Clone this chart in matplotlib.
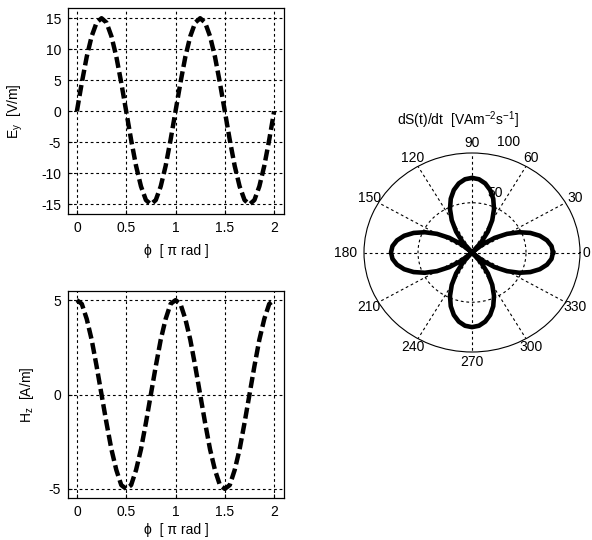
import matplotlib
matplotlib.use("Agg")
import matplotlib.pyplot as plt
import numpy as np

plt.rcParams['font.family'] = ['Liberation Sans', 'DejaVu Sans']
plt.rcParams['mathtext.default'] = 'regular'
plt.rcParams['axes.unicode_minus'] = False
plt.rcParams['font.size'] = 10

# ---- data ----
phi = [0.00, 0.05, 0.10, 0.15, 0.20, 0.25, 0.30, 0.35, 0.40, 0.45,
       0.50, 0.55, 0.60, 0.65, 0.70, 0.75, 0.80, 0.85, 0.90, 0.95,
       1.00, 1.05, 1.10, 1.15, 1.20, 1.25, 1.30, 1.35, 1.40, 1.45,
       1.50, 1.55, 1.60, 1.65, 1.70, 1.75, 1.80, 1.85, 1.90, 1.95, 2.00]
Ey = [0, 4.6, 8.8, 12.1, 14.3, 15, 14.3, 12.1, 8.8, 4.6,
      0, -4.6, -8.8, -12.1, -14.3, -15, -14.3, -12.1, -8.8, -4.6,
      0, 4.6, 8.8, 12.1, 14.3, 15, 14.3, 12.1, 8.8, 4.6,
      0, -4.6, -8.8, -12.1, -14.3, -15, -14.3, -12.1, -8.8, -4.6, 0]
Hz = [5, 4.8, 4.0, 2.9, 1.5, 0, -1.5, -2.9, -4.0, -4.8,
      -5, -4.8, -4.0, -2.9, -1.5, 0, 1.5, 2.9, 4.0, 4.8,
      5, 4.8, 4.0, 2.9, 1.5, 0, -1.5, -2.9, -4.0, -4.8,
      -5, -4.8, -4.0, -2.9, -1.5, 0, 1.5, 2.9, 4.0, 4.8, 5]

theta_deg = list(range(0, 361, 5))
dSdt = [75, 73.9, 70.5, 65.0, 57.5, 48.2, 37.5, 25.6, 13.0, 0, 13.0, 25.6, 37.5, 48.2, 57.5, 65.0, 70.5, 73.9,
        75, 73.9, 70.5, 65.0, 57.5, 48.2, 37.5, 25.6, 13.0, 0, 13.0, 25.6, 37.5, 48.2, 57.5, 65.0, 70.5, 73.9,
        75, 73.9, 70.5, 65.0, 57.5, 48.2, 37.5, 25.6, 13.0, 0, 13.0, 25.6, 37.5, 48.2, 57.5, 65.0, 70.5, 73.9,
        75, 73.9, 70.5, 65.0, 57.5, 48.2, 37.5, 25.6, 13.0, 0, 13.0, 25.6, 37.5, 48.2, 57.5, 65.0, 70.5, 73.9,
        75]

x_ticks = [0, 0.5, 1, 1.5, 2]
x_ticklabels = ['0', '0.5', '1', '1.5', '2']
ey_ticks = [-15, -10, -5, 0, 5, 10, 15]
hz_ticks = [-5, 0, 5]
angle_ticks = [0, 30, 60, 90, 120, 150, 180, 210, 240, 270, 300, 330]
radial_ticks = [50, 100]

W, H = 592, 540
fig = plt.figure(figsize=(W / 100, H / 100), dpi=100)

grid_kw = dict(color='black', linestyle=(0, (2.5, 2.5)), linewidth=0.8)
curve_kw = dict(color='black', linewidth=3.2, linestyle=(0, (2.5, 1.0)),
                solid_capstyle='butt', dash_capstyle='butt')


def style_cart(ax):
    ax.grid(True, **grid_kw)
    ax.tick_params(direction='in', length=3, pad=5, labelsize=10, color='black')
    for s in ax.spines.values():
        s.set_linewidth(0.9)
        s.set_color('black')
    ax.set_xlim(-0.09, 2.1)
    ax.set_xticks(x_ticks)
    ax.set_xticklabels(x_ticklabels)


# top-left: Ey
ax1 = fig.add_axes([68 / W, 1 - 214.3 / H, 216 / W, 206 / H])
ax1.plot(phi, Ey, **curve_kw)
style_cart(ax1)
ax1.set_ylim(-16.6, 16.6)
ax1.set_yticks(ey_ticks)
ax1.set_xlabel('ϕ  [ π rad ]', labelpad=6)
ax1.set_ylabel('E$_y$  [V/m]')
ax1.yaxis.set_label_coords((25 - 68) / 216, 0.5)

# bottom-left: Hz
ax2 = fig.add_axes([68 / W, 1 - 498.3 / H, 216 / W, 207.6 / H])
ax2.plot(phi, Hz, **curve_kw)
style_cart(ax2)
ax2.set_ylim(-5.5, 5.5)
ax2.set_yticks(hz_ticks)
ax2.set_xlabel('ϕ  [ π rad ]', labelpad=3)
ax2.set_ylabel('H$_z$  [A/m]')
ax2.yaxis.set_label_coords((36 - 68) / 216, 0.5)

# right: polar
ax3 = fig.add_axes([364 / W, 1 - 352 / H, 216 / W, 199 / H], projection='polar')
ax3.set_aspect('auto')
ax3.plot(np.deg2rad(theta_deg), dSdt, color='black', linewidth=3.3, zorder=5)
ax3.set_ylim(0, 100)
ax3.set_rgrids([radial_ticks[0]], labels=[''])
ax3.set_thetagrids(angle_ticks, labels=[''] * len(angle_ticks))
ax3.grid(True, **grid_kw)
ax3.spines['polar'].set_linewidth(0.8)
ax3.spines['polar'].set_color('black')
for a in angle_ticks:
    rr = {180: 117, 0: 106}.get(a, 110)
    ax3.text(np.deg2rad(a), rr, str(a), ha='center', va='center', fontsize=10)
ax3.text(np.deg2rad(75.3), 54.6, str(radial_ticks[0]), ha='left', va='bottom', fontsize=10, zorder=2)
ax3.text(np.deg2rad(77.5), 106.5, str(radial_ticks[1]), ha='left', va='bottom', fontsize=10)

fig.text(458 / W, 1 - 120 / H, 'dS(t)/dt  [VAm$^{-2}$s$^{-1}$]', ha='center', va='center', fontsize=10)

fig.savefig('out.png', dpi=100, facecolor='white')
